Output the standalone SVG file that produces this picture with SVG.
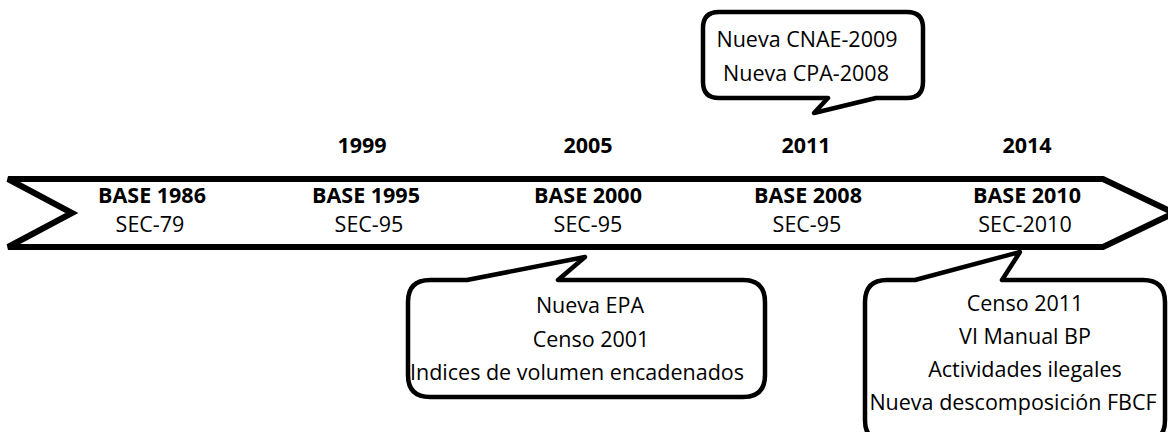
<svg xmlns="http://www.w3.org/2000/svg" width="1168" height="432" viewBox="0 0 1168 432">
<style>
.shape{fill:#fff;stroke:#000;stroke-linejoin:round}
.band{stroke-width:6;stroke-linejoin:miter}
.call{stroke-width:4.5}
text{font-family:"Open Sans","Liberation Sans",sans-serif;font-size:21.5px;fill:#000;text-anchor:middle}
.b{font-weight:bold}
</style>
<rect width="1168" height="432" fill="#fff"/>
<g id="timeline">
<path class="shape band" d="M 8,179 H 1103 L 1174,213 L 1103,247 H 8 L 72,213 Z"/>
</g>
<g id="years">
<text class="b" x="362" y="153">1999</text>
<text class="b" x="588" y="153">2005</text>
<text class="b" x="806" y="153">2011</text>
<text class="b" x="1027" y="153">2014</text>
</g>
<g id="base1986">
<text class="b" x="152" y="203">BASE 1986</text>
<text x="150" y="232">SEC-79</text>
</g>
<g id="base1995">
<text class="b" x="366" y="203">BASE 1995</text>
<text x="369" y="232">SEC-95</text>
</g>
<g id="base2000">
<text class="b" x="588" y="203">BASE 2000</text>
<text x="588" y="232">SEC-95</text>
</g>
<g id="base2008">
<text class="b" x="808" y="203">BASE 2008</text>
<text x="807" y="232">SEC-95</text>
</g>
<g id="base2010">
<text class="b" x="1027" y="203">BASE 2010</text>
<text x="1025" y="232">SEC-2010</text>
</g>
<g id="callout2011">
<path class="shape call" d="M 719,12 H 907 Q 923,12 923,28 V 82 Q 923,98 907,98 H 876 L 814,113 L 828,98 H 719 Q 703,98 703,82 V 28 Q 703,12 719,12 Z"/>
<text x="807" y="47">Nueva CNAE-2009</text>
<text x="806" y="81">Nueva CPA-2008</text>
</g>
<g id="callout2005">
<path class="shape call" d="M 430,280 H 467 L 585,257 L 558,280 H 743 Q 765,280 765,302 V 375 Q 765,397 743,397 H 430 Q 408,397 408,375 V 302 Q 408,280 430,280 Z"/>
<text x="590" y="313">Nueva EPA</text>
<text x="591" y="347">Censo 2001</text>
<text x="577" y="380">Indices de volumen encadenados</text>
</g>
<g id="callout2014">
<path class="shape call" d="M 887,280 H 915 L 1020,252 L 1002,280 H 1143 Q 1165,280 1165,302 V 420 Q 1165,442 1143,442 H 887 Q 865,442 865,420 V 302 Q 865,280 887,280 Z"/>
<text x="1025" y="311">Censo 2011</text>
<text x="1025" y="344">VI Manual BP</text>
<text x="1025" y="377">Actividades ilegales</text>
<text x="1013" y="410">Nueva descomposición FBCF</text>
</g>
<g id="connectors"/>
</svg>
